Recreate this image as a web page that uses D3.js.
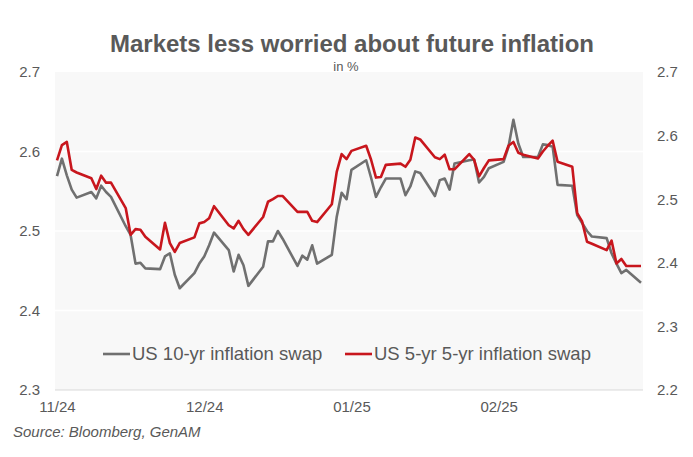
<!DOCTYPE html>
<html>
<head>
<meta charset="utf-8">
<script src="https://cdn.jsdelivr.net/npm/d3@7"></script>
<style>
  body { margin: 0; background: #fff; }
  text { font-family: "Liberation Sans", Arial, sans-serif; fill: #595959; }
</style>
</head>
<body>
<div id="chart"></div>
<script>
const width = 693;
const height = 457;

// business days, Nov 2024 - Mar 2025
const dates = [
  "2024-11-04","2024-11-05","2024-11-06","2024-11-07","2024-11-08",
  "2024-11-11","2024-11-12","2024-11-13","2024-11-14","2024-11-15",
  "2024-11-18","2024-11-19","2024-11-20","2024-11-21","2024-11-22",
  "2024-11-25","2024-11-26","2024-11-27","2024-11-28","2024-11-29",
  "2024-12-02","2024-12-03","2024-12-04","2024-12-05","2024-12-06",
  "2024-12-09","2024-12-10","2024-12-11","2024-12-12","2024-12-13",
  "2024-12-16","2024-12-17","2024-12-18","2024-12-19","2024-12-20",
  "2024-12-23","2024-12-24","2024-12-25","2024-12-26","2024-12-27",
  "2024-12-30","2024-12-31",
  "2025-01-01","2025-01-02","2025-01-03",
  "2025-01-06","2025-01-07","2025-01-08","2025-01-09","2025-01-10",
  "2025-01-13","2025-01-14","2025-01-15","2025-01-16","2025-01-17",
  "2025-01-20","2025-01-21","2025-01-22","2025-01-23","2025-01-24",
  "2025-01-27","2025-01-28","2025-01-29","2025-01-30","2025-01-31",
  "2025-02-03","2025-02-04","2025-02-05","2025-02-06","2025-02-07",
  "2025-02-10","2025-02-11","2025-02-12","2025-02-13","2025-02-14",
  "2025-02-17","2025-02-18","2025-02-19","2025-02-20","2025-02-21",
  "2025-02-24","2025-02-25","2025-02-26","2025-02-27","2025-02-28",
  "2025-03-03"
];

// US 10-yr inflation swap (left axis)
const swap10y = [
  2.569,2.591,2.570,2.552,2.542, 2.549,2.541,2.557,2.549,2.543,
  2.506,2.495,2.459,2.460,2.453, 2.452,2.468,2.472,2.445,2.428,
  2.447,2.459,2.468,2.482,2.498, 2.476,2.449,2.470,2.457,2.431,
  2.455,2.487,2.487,2.500,2.490, 2.456,2.469,2.464,2.482,2.459,
  2.470,2.518,
  2.548,2.540,2.577, 2.589,2.567,2.543,2.555,2.566,
  2.566,2.545,2.556,2.575,2.573, 2.544,2.564,2.566,2.552,2.585,
  2.589,2.590,2.561,2.568,2.579,
  2.587,2.606,2.640,2.610,2.593, 2.593,2.609,2.608,2.606,2.558,
  2.557,2.520,2.510,2.500,2.493, 2.491,2.472,2.459,2.447,2.451,
  2.435
];

// US 5-yr 5-yr inflation swap (right axis)
const swap5y5y = [
  2.561,2.585,2.590,2.546,2.542, 2.533,2.516,2.537,2.526,2.526,
  2.486,2.444,2.453,2.452,2.441, 2.421,2.463,2.431,2.417,2.431,
  2.440,2.462,2.464,2.470,2.489, 2.459,2.454,2.466,2.453,2.444,
  2.472,2.496,2.500,2.505,2.505, 2.480,2.480,2.480,2.466,2.464,
  2.492,2.543,
  2.571,2.563,2.576, 2.584,2.562,2.534,2.535,2.554,
  2.556,2.551,2.562,2.597,2.594, 2.566,2.563,2.570,2.547,2.547,
  2.571,2.562,2.536,2.549,2.561,
  2.563,2.584,2.590,2.573,2.570, 2.564,2.575,2.584,2.592,2.559,
  2.551,2.478,2.465,2.433,2.430, 2.420,2.435,2.399,2.406,2.395,
  2.395
];

const leftTicks = [2.3, 2.4, 2.5, 2.6, 2.7];
const rightTicks = [2.2, 2.3, 2.4, 2.5, 2.6, 2.7];
const xTickDates = ["2024-11-04", "2024-12-04", "2025-01-03", "2025-02-02"];
const seriesNames = ["US 10-yr inflation swap", "US 5-yr 5-yr inflation swap"];
const colors = ["#707070", "#c8161d"];

const parse = d3.timeParse("%Y-%m-%d");
const plot = { left: 55, right: 643, top: 72, bottom: 390 };

const svg = d3.select("#chart")
  .append("svg")
  .attr("width", width)
  .attr("height", height);

svg.append("rect")
  .attr("x", plot.left)
  .attr("y", plot.top)
  .attr("width", plot.right - plot.left)
  .attr("height", plot.bottom - plot.top)
  .attr("fill", "#f8f8f8");

const xScale = d3.scaleTime()
  .domain([parse(dates[0]), parse(dates[dates.length - 1])])
  .range([plot.left + 2, plot.right - 2]);

const yLeft = d3.scaleLinear().domain([2.3, 2.7]).range([plot.bottom, plot.top]);
const yRight = d3.scaleLinear().domain([2.2, 2.7]).range([plot.bottom, plot.top]);

// gridlines
svg.append("g")
  .selectAll("line")
  .data(leftTicks.slice(1, -1))
  .enter()
  .append("line")
  .attr("x1", plot.left)
  .attr("x2", plot.right)
  .attr("y1", d => yLeft(d))
  .attr("y2", d => yLeft(d))
  .attr("stroke", "#ffffff")
  .attr("stroke-width", 1.5);

svg.append("line")
  .attr("x1", plot.left)
  .attr("x2", plot.right)
  .attr("y1", plot.bottom)
  .attr("y2", plot.bottom)
  .attr("stroke", "#d9d9d9");

const leftAxis = svg.append("g")
  .attr("transform", `translate(${plot.left}, 0)`)
  .call(d3.axisLeft(yLeft).tickValues(leftTicks).tickFormat(d3.format(".1f")).tickSize(0).tickPadding(15));

const rightAxis = svg.append("g")
  .attr("transform", `translate(${plot.right}, 0)`)
  .call(d3.axisRight(yRight).tickValues(rightTicks).tickFormat(d3.format(".1f")).tickSize(0).tickPadding(14));

const xAxis = svg.append("g")
  .attr("transform", `translate(0, ${plot.bottom})`)
  .call(d3.axisBottom(xScale)
    .tickValues(xTickDates.map(parse))
    .tickFormat(d3.timeFormat("%m/%y"))
    .tickSize(0)
    .tickPadding(11));

[leftAxis, rightAxis, xAxis].forEach(g => {
  g.select(".domain").remove();
  g.selectAll("text")
    .style("font-size", "15px")
    .style("font-family", "'Liberation Sans', Arial, sans-serif")
    .attr("fill", "#595959");
});

const rows = dates.map((d, i) => ({ date: parse(d), a: swap10y[i], b: swap5y5y[i] }));

const lineA = d3.line().x(d => xScale(d.date)).y(d => yLeft(d.a));
const lineB = d3.line().x(d => xScale(d.date)).y(d => yRight(d.b));

svg.append("path")
  .datum(rows)
  .attr("d", lineA)
  .attr("fill", "none")
  .attr("stroke", colors[0])
  .attr("stroke-width", 2.6)
  .attr("stroke-linejoin", "round");

svg.append("path")
  .datum(rows)
  .attr("d", lineB)
  .attr("fill", "none")
  .attr("stroke", colors[1])
  .attr("stroke-width", 2.6)
  .attr("stroke-linejoin", "round");

// legend
const legendX = [103, 345];
const legend = svg.append("g").attr("transform", "translate(0, 354)");
seriesNames.forEach((name, i) => {
  legend.append("line")
    .attr("x1", legendX[i])
    .attr("x2", legendX[i] + 27)
    .attr("stroke", colors[i])
    .attr("stroke-width", 2.6);
  legend.append("text")
    .attr("x", legendX[i] + 29)
    .attr("dy", "0.35em")
    .style("font-size", "18.5px")
    .text(name);
});

svg.append("text")
  .attr("x", 352)
  .attr("y", 52)
  .attr("text-anchor", "middle")
  .style("font-size", "24px")
  .style("font-weight", "bold")
  .text("Markets less worried about future inflation");

svg.append("text")
  .attr("x", 346)
  .attr("y", 71)
  .attr("text-anchor", "middle")
  .style("font-size", "13px")
  .text("in %");

svg.append("text")
  .attr("x", 13)
  .attr("y", 437)
  .style("font-size", "15px")
  .style("font-style", "italic")
  .text("Source: Bloomberg, GenAM");
</script>
</body>
</html>
